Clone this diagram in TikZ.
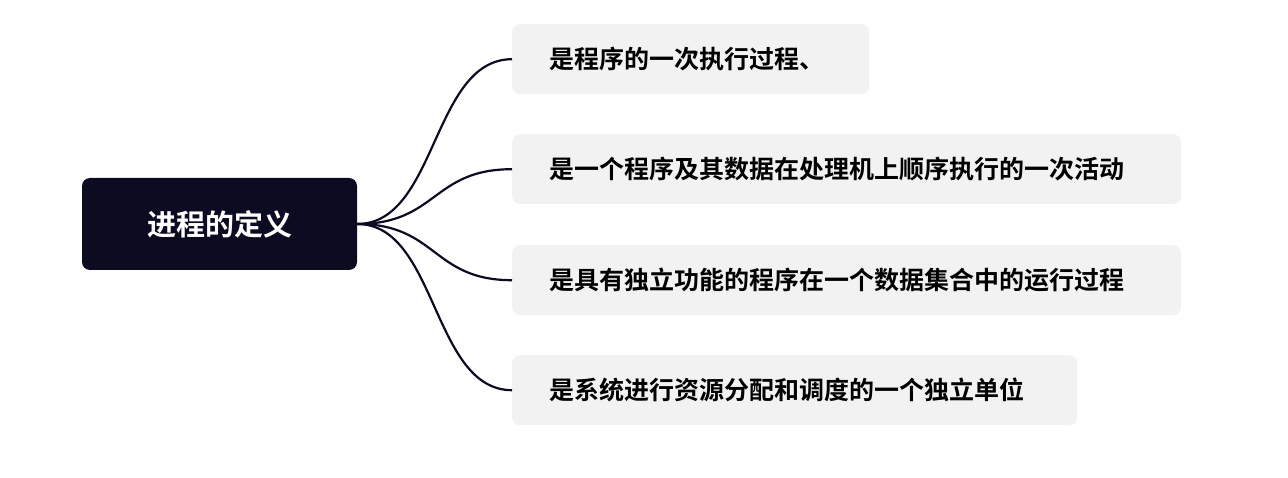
\documentclass[tikz,border=0pt]{standalone}
\usepackage{fontspec}
\usetikzlibrary{calc}
\newfontfamily\cjk{Noto Sans CJK SC Bold}
\definecolor{rootc}{HTML}{0D0B21}
\definecolor{leafc}{HTML}{F2F2F2}
\begin{document}
\begin{tikzpicture}[x=1pt,y=-1pt,
  rootbox/.style={fill=rootc,rounded corners=8pt,inner sep=0pt,text=white,font=\cjk\fontsize{29}{33}\selectfont},
  leafbox/.style={fill=leafc,rounded corners=8pt,inner sep=0pt,anchor=north west,text=black,font=\cjk\fontsize{25}{29}\selectfont,align=left,text width=#1,minimum height=70pt},
  link/.style={draw=rootc,line width=2.2pt}]
\useasboundingbox (0,0) rectangle (1288,478);
\node[rootbox,minimum width=275pt,minimum height=92pt] (r) at (219.5,224) {进程的定义};
\node[leafbox=357pt] (a) at (512,24) {\hspace*{37pt}是程序的一次执行过程、};
\node[leafbox=669pt] (b) at (512,134) {\hspace*{37pt}是一个程序及其数据在处理机上顺序执行的一次活动};
\node[leafbox=669pt] (c) at (512,245) {\hspace*{37pt}是具有独立功能的程序在一个数据集合中的运行过程};
\node[leafbox=565pt] (d) at (512,355) {\hspace*{37pt}是系统进行资源分配和调度的一个独立单位};
\foreach \t in {a,b,c,d}
  \draw[link] (r.east) .. controls ($(r.east)+(80,0)$) and ($(\t.west)+(-80,0)$) .. (\t.west);
\end{tikzpicture}
\end{document}
